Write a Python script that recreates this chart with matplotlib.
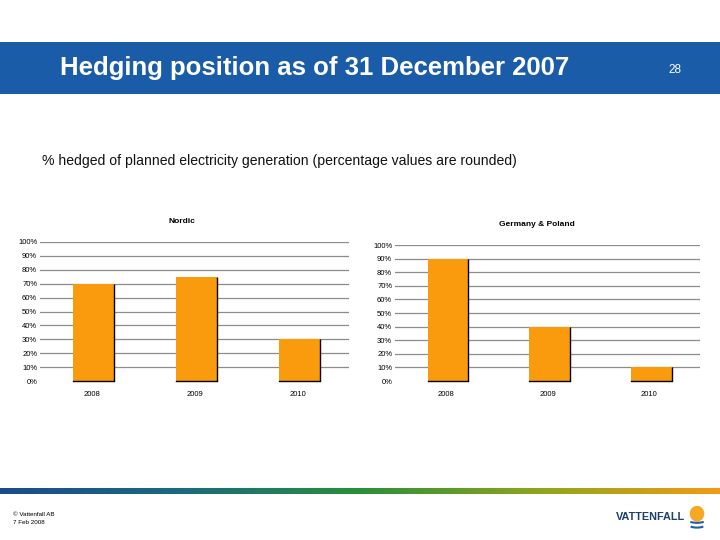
import matplotlib
matplotlib.use('Agg')
import matplotlib.pyplot as plt
import numpy as np
from matplotlib.colors import LinearSegmentedColormap
from matplotlib.patches import Rectangle, Circle, Arc

# data
years = ['2008', '2009', '2010']
nordic = [70, 75, 30]
germany_poland = [90, 40, 10]
ticks = list(range(0, 101, 10))
tick_labels = [f'{t}%' for t in ticks]

title = 'Hedging position as of 31 December 2007'
subtitle = '% hedged of planned electricity generation (percentage values are rounded)'

W, H = 720, 540
fig = plt.figure(figsize=(7.2, 5.4), dpi=100)
fig.patch.set_facecolor('white')

def fx(px):
    return px / W

def fy(py):
    return 1 - py / H

# banner
fig.patches.append(Rectangle((0, fy(94)), 1, (94 - 42) / H, transform=fig.transFigure,
                             facecolor='#1b5ca8', edgecolor='none', zorder=0))
fig.text(fx(60), fy(68), title, color='white', fontsize=18.5, fontweight='bold',
         family='Liberation Sans', va='center', ha='left')
fig.text(fx(675), fy(70), '28', color='white', fontsize=8.5,
         family='Liberation Sans', va='center', ha='center')

fig.text(fx(42), fy(161), subtitle, fontsize=10.1, family='Liberation Sans',
         va='center', ha='left', color='#111111')

orange = '#f99b0c'

def draw(ax, vals, name, tx):
    x = np.arange(len(vals))
    ax.set_xlim(-0.5, len(vals) - 0.5)
    ax.set_ylim(0, 100)
    for t in ticks[1:]:
        ax.axhline(t, color='#8c8c8c', lw=0.9, zorder=1)
    ax.bar(x + 0.02, vals, width=0.4, color=orange, edgecolor='none', zorder=2)
    ax.vlines(x + 0.22, 0, vals, color='black', lw=1.0, zorder=3)
    for xi in x:
        ax.plot([xi - 0.18, xi + 0.22], [0, 0], color='black', lw=1.0, zorder=3, clip_on=False)
    ax.set_yticks(ticks)
    ax.set_yticklabels(tick_labels, fontsize=5.5, family='Liberation Sans')
    ax.set_xticks(x)
    ax.set_xticklabels(years, fontsize=5.5, family='Liberation Sans')
    ax.tick_params(axis='y', length=0, pad=2)
    ax.tick_params(axis='x', length=0, pad=7)
    for s in ax.spines.values():
        s.set_visible(False)
    t = ax.set_title(name, fontsize=6, fontweight='bold', family='Liberation Sans', pad=14)
    t.set_x(tx)

ax1 = fig.add_axes([fx(40), fy(381), fx(349 - 40), (381 - 242) / H])
draw(ax1, nordic, 'Nordic', 0.46)
ax2 = fig.add_axes([fx(395), fy(381), fx(700 - 395), (381 - 245) / H])
draw(ax2, germany_poland, 'Germany & Poland', 0.465)

# gradient stripe
cmap = LinearSegmentedColormap.from_list('vf', ['#1a4c8c', '#1a6a80', '#2a8f3a', '#8fa51e', '#f39a12'])
gax = fig.add_axes([0, fy(494), 1, 6 / H])
gax.imshow(np.linspace(0, 1, 256)[None, :], aspect='auto', cmap=cmap)
gax.axis('off')

fig.text(fx(13), fy(514), '© Vattenfall AB', fontsize=4.5, family='Liberation Sans', va='center')
fig.text(fx(13), fy(522), '7 Feb 2008', fontsize=4.5, family='Liberation Sans', va='center')

fig.text(fx(650), fy(517), 'VATTENFALL', fontsize=7.8, fontweight='bold', color='#1d3e6e',
         family='Liberation Sans', va='center', ha='center')
lax = fig.add_axes([fx(686), fy(530), fx(22), 24 / H])
lax.set_xlim(0, 1)
lax.set_ylim(0, 1)
lax.axis('off')
lax.add_patch(Circle((0.5, 0.68), 0.3, color='#f7a823'))
lax.add_patch(Arc((0.5, 0.45), 0.9, 0.3, theta1=200, theta2=340, color='#1d5ca8', lw=1.5))
lax.add_patch(Arc((0.5, 0.25), 0.8, 0.3, theta1=200, theta2=340, color='#1d5ca8', lw=1.5))

fig.savefig('out.png', dpi=100)
